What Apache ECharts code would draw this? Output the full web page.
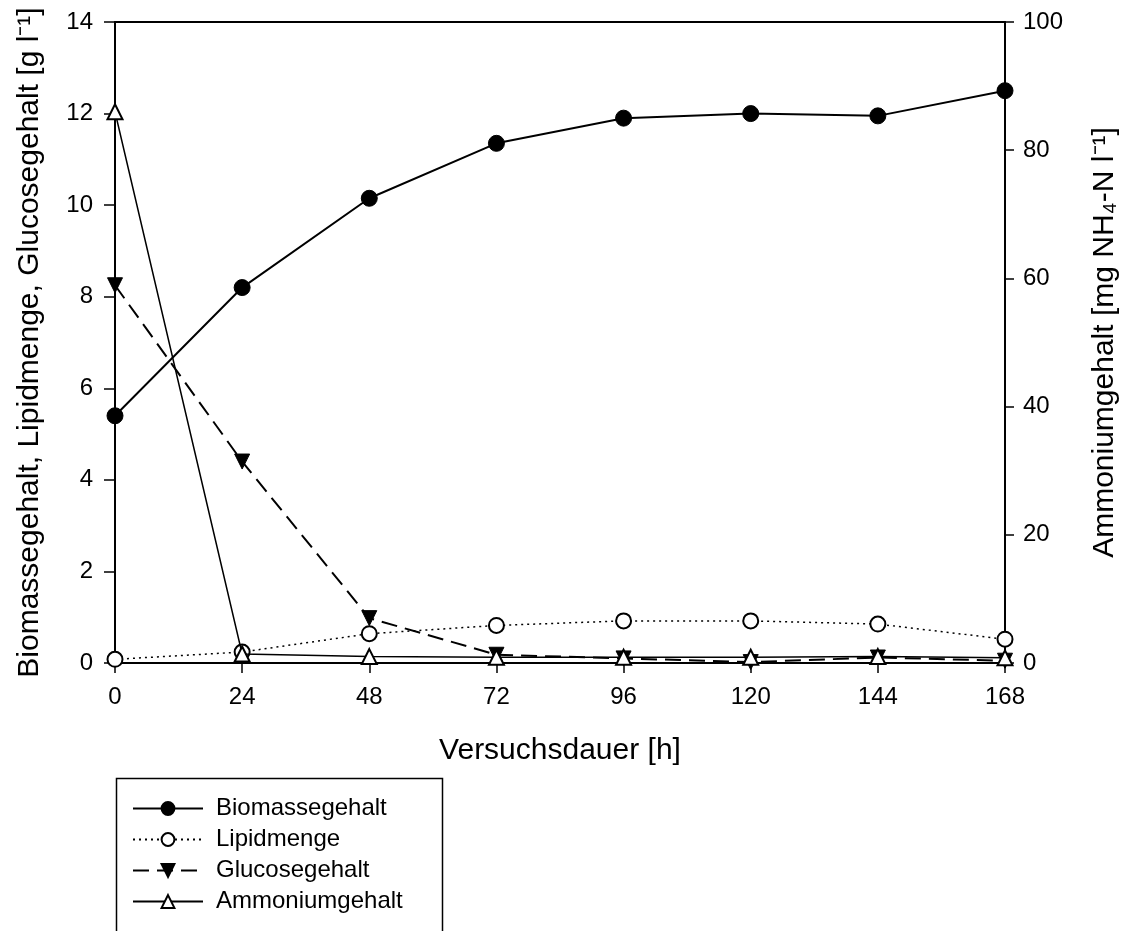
<!DOCTYPE html>
<html>
<head>
<meta charset="utf-8">
<script src="https://cdn.jsdelivr.net/npm/echarts@6/dist/echarts.min.js"></script>
<style>html,body{margin:0;padding:0;background:#fff}#c{width:1133px;height:931px}</style>
</head>
<body>
<div id="c"></div>
<script>
const hours = [0, 24, 48, 72, 96, 120, 144, 168];
const biomasse = [5.4, 8.2, 10.15, 11.35, 11.9, 12.0, 11.95, 12.5];
const lipid = [0.08, 0.24, 0.64, 0.82, 0.92, 0.92, 0.85, 0.52];
const glucose = [8.25, 4.4, 0.98, 0.18, 0.1, 0.02, 0.12, 0.05];
const ammonium = [86, 1.4, 1.0, 0.9, 0.9, 0.9, 1.0, 0.8];
const xTicks = [0, 24, 48, 72, 96, 120, 144, 168];

const pairs = arr => hours.map((h, i) => [h, arr[i]]);
const FONT = 'Liberation Sans, Arial, sans-serif';
const chart = echarts.init(document.getElementById('c'));
chart.setOption({
  animation: false,
  backgroundColor: '#fff',
  textStyle: { fontFamily: FONT, color: '#000' },
  grid: { left: 115, right: 128, top: 22, bottom: 268, containLabel: false },
  graphic: [{
    type: 'rect', left: 114, top: 776,
    shape: { width: 326, height: 200 },
    style: { fill: 'none', stroke: '#000', lineWidth: 1.5 }, z: 10
  }],
  legend: {
    orient: 'vertical', left: 132, top: 796,
    padding: 0,
    itemWidth: 70, itemHeight: 16, itemGap: 6,
    textStyle: { fontFamily: FONT, fontSize: 24, lineHeight: 25, color: '#000', padding: [0, 0, 0, 8] },
    data: ['Biomassegehalt', 'Lipidmenge', 'Glucosegehalt', 'Ammoniumgehalt']
  },
  xAxis: [
    {
      type: 'value', min: 0, max: 168, interval: 24, position: 'bottom',
      name: 'Versuchsdauer [h]', nameLocation: 'middle', nameGap: 73,
      nameTextStyle: { fontSize: 30, color: '#000', fontFamily: FONT },
      axisLine: { show: true, onZero: false, lineStyle: { color: '#000', width: 2 } },
      axisTick: { show: true, length: 10, lineStyle: { color: '#000', width: 1.5 } },
      axisLabel: { fontSize: 24, color: '#000', margin: 22, formatter: v => xTicks.includes(v) ? String(v) : '' },
      splitLine: { show: false }
    },
    {
      type: 'value', min: 0, max: 168, interval: 24, position: 'top',
      axisLine: { show: true, onZero: false, lineStyle: { color: '#000', width: 2 } },
      axisTick: { show: false }, axisLabel: { show: false }, splitLine: { show: false }
    }
  ],
  yAxis: [
    {
      type: 'value', min: 0, max: 14, interval: 2, position: 'left',
      name: 'Biomassegehalt, Lipidmenge, Glucosegehalt [g l⁻¹]',
      nameLocation: 'middle', nameGap: 70, nameRotate: 90,
      nameTextStyle: { fontSize: 30, color: '#000', fontFamily: FONT },
      axisLine: { show: true, onZero: false, lineStyle: { color: '#000', width: 2 } },
      axisTick: { show: true, length: 11, lineStyle: { color: '#000', width: 1.5 } },
      axisLabel: { fontSize: 24, color: '#000', margin: 22 },
      splitLine: { show: false }
    },
    {
      type: 'value', min: 0, max: 100, interval: 20, position: 'right',
      name: 'Ammoniumgehalt [mg NH₄-N l⁻¹]',
      nameLocation: 'middle', nameGap: 85, nameRotate: 90,
      nameTextStyle: { fontSize: 30, color: '#000', fontFamily: FONT },
      axisLine: { show: true, onZero: false, lineStyle: { color: '#000', width: 2 } },
      axisTick: { show: true, length: 9, lineStyle: { color: '#000', width: 1.5 } },
      axisLabel: { fontSize: 24, color: '#000', margin: 18 },
      splitLine: { show: false }
    }
  ],
  series: [
    {
      name: 'Biomassegehalt', type: 'line', xAxisIndex: 0, yAxisIndex: 0, data: pairs(biomasse),
      symbol: 'circle', symbolSize: 16,
      lineStyle: { color: '#000', width: 2 },
      itemStyle: { color: '#000', borderColor: '#000', borderWidth: 1 }, z: 5
    },
    {
      name: 'Lipidmenge', type: 'line', xAxisIndex: 0, yAxisIndex: 0, data: pairs(lipid),
      symbol: 'circle', symbolSize: 15,
      lineStyle: { color: '#000', width: 1.5, type: [2, 4] },
      itemStyle: { color: '#fff', borderColor: '#000', borderWidth: 2 }, z: 4
    },
    {
      name: 'Glucosegehalt', type: 'line', xAxisIndex: 0, yAxisIndex: 0, data: pairs(glucose),
      symbol: 'triangle', symbolRotate: 180, symbolSize: 15,
      lineStyle: { color: '#000', width: 2, type: [16, 8] },
      itemStyle: { color: '#000', borderColor: '#000', borderWidth: 1 }, z: 3
    },
    {
      name: 'Ammoniumgehalt', type: 'line', xAxisIndex: 0, yAxisIndex: 1, data: pairs(ammonium),
      symbol: 'triangle', symbolSize: 15,
      lineStyle: { color: '#000', width: 1.5 },
      itemStyle: { color: '#fff', borderColor: '#000', borderWidth: 2 }, z: 6
    }
  ]
});
</script>
</body>
</html>
